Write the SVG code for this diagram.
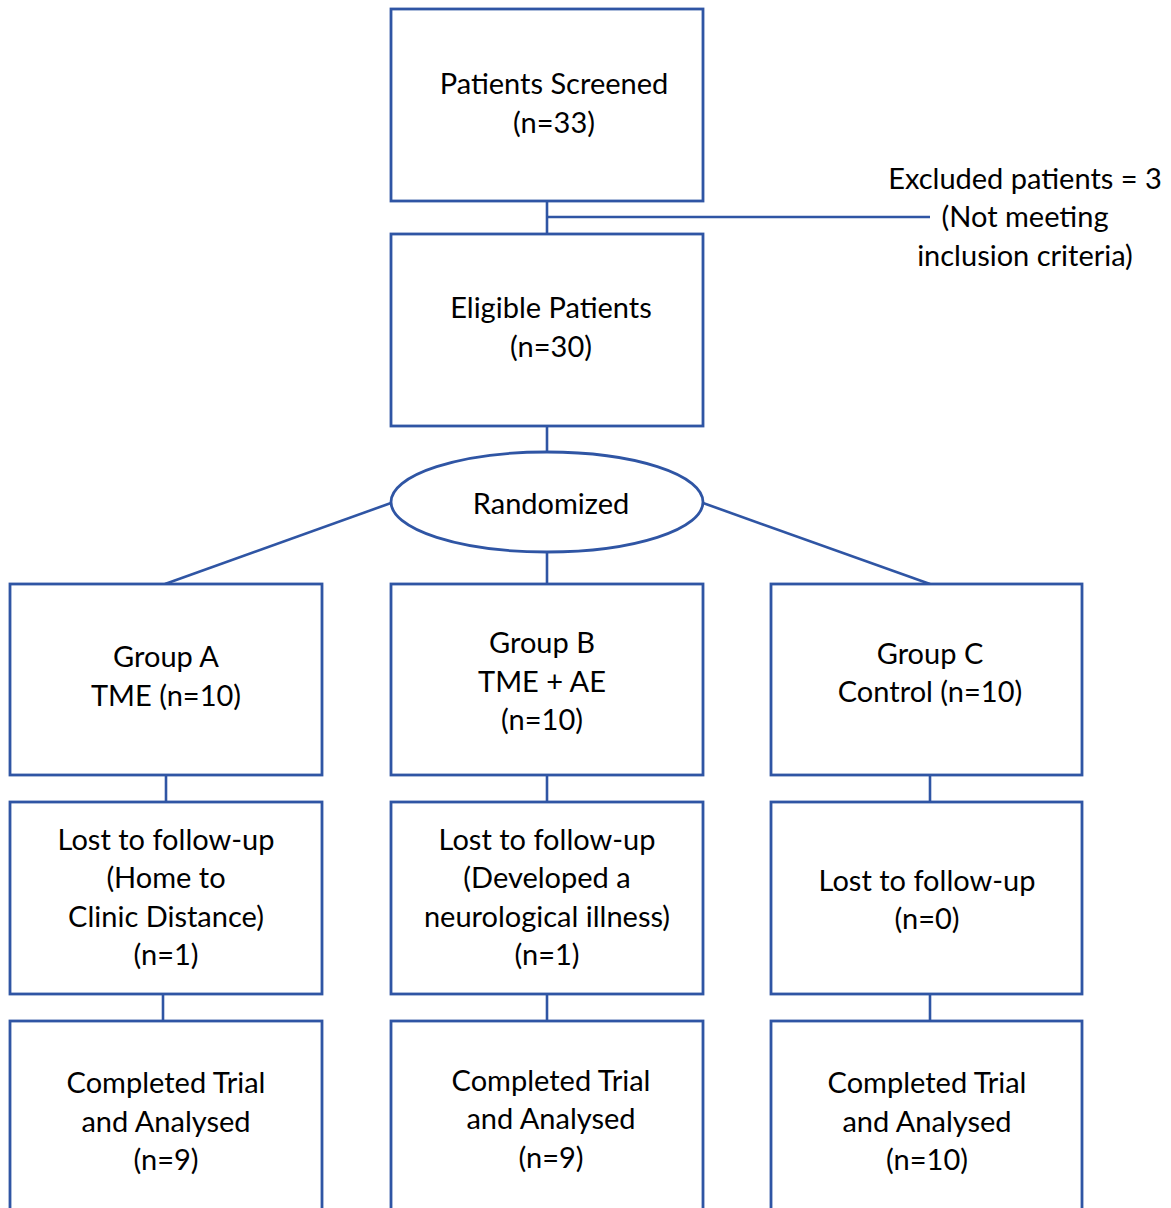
<svg xmlns="http://www.w3.org/2000/svg" width="1171" height="1208" viewBox="0 0 1171 1208">
<style>
.box{fill:#fff;stroke:#2F55A4;stroke-width:2.8}
.ln{fill:none;stroke:#2F55A4;stroke-width:2.6}
text{font-family:Lato,"Open Sans",sans-serif;font-size:29px;fill:#000;text-anchor:middle}
</style>
<rect width="1171" height="1208" fill="#fff"/>
<g id="connectors">
<line class="ln" x1="547" y1="201" x2="547" y2="234"/>
<line class="ln" x1="547" y1="217" x2="930" y2="217"/>
<line class="ln" x1="547" y1="426" x2="547" y2="452"/>
<line class="ln" x1="391" y1="503" x2="165" y2="584"/>
<line class="ln" x1="703" y1="503" x2="930" y2="584"/>
<line class="ln" x1="547" y1="552" x2="547" y2="584"/>
<line class="ln" x1="166" y1="775" x2="166" y2="802"/>
<line class="ln" x1="547" y1="775" x2="547" y2="802"/>
<line class="ln" x1="930" y1="775" x2="930" y2="802"/>
<line class="ln" x1="163" y1="994" x2="163" y2="1021"/>
<line class="ln" x1="547" y1="994" x2="547" y2="1021"/>
<line class="ln" x1="930" y1="994" x2="930" y2="1021"/>
</g>
<g id="screened"><rect class="box" x="391" y="9" width="312" height="192"/>
<text x="554" y="94">Patients Screened</text><text x="554" y="133">(n=33)</text></g>
<g id="excluded"><text x="1025" y="189">Excluded patients = 3</text><text x="1025" y="227">(Not meeting</text><text x="1025" y="266">inclusion criteria)</text></g>
<g id="eligible"><rect class="box" x="391" y="234" width="312" height="192"/>
<text x="551" y="318">Eligible Patients</text><text x="551" y="357">(n=30)</text></g>
<g id="randomized"><ellipse class="box" cx="547" cy="502" rx="156" ry="50"/>
<text x="551" y="514">Randomized</text></g>
<g id="groupA"><rect class="box" x="10" y="584" width="312" height="191"/>
<text x="166" y="667">Group A</text><text x="166" y="706">TME (n=10)</text></g>
<g id="groupB"><rect class="box" x="391" y="584" width="312" height="191"/>
<text x="542" y="653">Group B</text><text x="542" y="692">TME + AE</text><text x="542" y="730">(n=10)</text></g>
<g id="groupC"><rect class="box" x="771" y="584" width="311" height="191"/>
<text x="930" y="664">Group C</text><text x="930" y="702">Control (n=10)</text></g>
<g id="lostA"><rect class="box" x="10" y="802" width="312" height="192"/>
<text x="166" y="850">Lost to follow-up</text><text x="166" y="888">(Home to</text><text x="166" y="927">Clinic Distance)</text><text x="166" y="965">(n=1)</text></g>
<g id="lostB"><rect class="box" x="391" y="802" width="312" height="192"/>
<text x="547" y="850">Lost to follow-up</text><text x="547" y="888">(Developed a</text><text x="547" y="927">neurological illness)</text><text x="547" y="965">(n=1)</text></g>
<g id="lostC"><rect class="box" x="771" y="802" width="311" height="192"/>
<text x="927" y="891">Lost to follow-up</text><text x="927" y="929">(n=0)</text></g>
<g id="completedA"><rect class="box" x="10" y="1021" width="312" height="200"/>
<text x="166" y="1093">Completed Trial</text><text x="166" y="1132">and Analysed</text><text x="166" y="1170">(n=9)</text></g>
<g id="completedB"><rect class="box" x="391" y="1021" width="312" height="200"/>
<text x="551" y="1091">Completed Trial</text><text x="551" y="1129">and Analysed</text><text x="551" y="1168">(n=9)</text></g>
<g id="completedC"><rect class="box" x="771" y="1021" width="311" height="200"/>
<text x="927" y="1093">Completed Trial</text><text x="927" y="1132">and Analysed</text><text x="927" y="1170">(n=10)</text></g>
</svg>
